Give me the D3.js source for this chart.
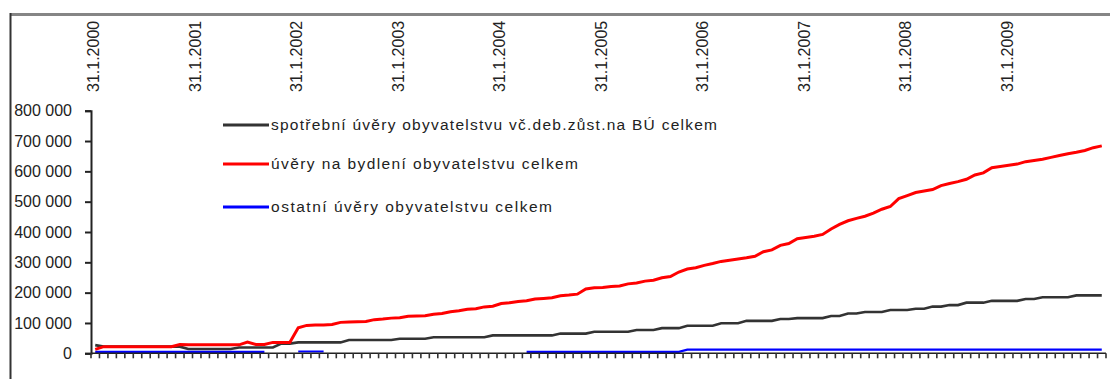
<!DOCTYPE html>
<html>
<head>
<meta charset="utf-8">
<script src="https://cdn.jsdelivr.net/npm/d3@7"></script>
<style>
  html, body { margin: 0; padding: 0; background: #fff; }
  svg { display: block; font-family: "Liberation Sans", Arial, sans-serif; }
</style>
</head>
<body>
<svg id="chart" width="1110" height="379"></svg>
<script>
// ---- DATA ----
const tickLabels = ["31.1.2000","31.1.2001","31.1.2002","31.1.2003","31.1.2004",
                    "31.1.2005","31.1.2006","31.1.2007","31.1.2008","31.1.2009"];
const yTicks = [0,100000,200000,300000,400000,500000,600000,700000,800000];
const seriesNames = [
  "spotřební úvěry obyvatelstvu vč.deb.zůst.na BÚ celkem",
  "úvěry na bydlení obyvatelstvu celkem",
  "ostatní úvěry obyvatelstvu celkem"
];
const seriesColors = ["#333333", "#ff0000", "#0000ff"];

// month-end categories Jan 2000 .. Dec 2009
const fmtDate = d3.timeFormat("%-d.%-m.%Y");
const categories = d3.timeMonth.range(new Date(2000,1,1), new Date(2010,1,1))
  .map(d => fmtDate(d3.timeDay.offset(d, -1)));

const consumer = [
  27000,22000,22000,22000,22000,22000,22000,22000,22000,22000,
  22000,14000,14000,14000,14000,14000,14000,19000,19000,19000,
  19000,19000,32000,32000,36000,36000,36000,36000,36000,36000,
  44000,44000,44000,44000,44000,44000,48000,48000,48000,48000,
  53000,53000,53000,53000,53000,53000,53000,59000,59000,59000,
  59000,59000,59000,59000,59000,65000,65000,65000,65000,71000,
  71000,71000,71000,71000,77000,77000,77000,83000,83000,83000,
  91000,91000,91000,91000,99000,99000,99000,107000,107000,107000,
  107000,113000,113000,116000,116000,116000,116000,123000,123000,131000,
  131000,136000,136000,136000,143000,143000,143000,147000,147000,154000,
  154000,159000,159000,167000,167000,167000,173000,173000,173000,173000,
  179000,179000,185000,185000,185000,185000,191000,191000,191000,191000
];
const housing = [
  13000,22000,22000,22000,22000,22000,22000,22000,22000,22000,
  29000,28000,28000,28000,28000,28000,28000,28000,37000,29000,
  29000,36000,36000,36000,84000,92000,93000,93000,95000,102000,
  103000,104000,105000,111000,113000,116000,117000,122000,123000,124000,
  129000,131000,137000,140000,145000,147000,153000,155000,164000,167000,
  171000,173000,179000,181000,183000,190000,192000,195000,212000,216000,
  217000,220000,222000,229000,232000,238000,241000,249000,253000,268000,
  278000,282000,290000,296000,303000,307000,311000,315000,320000,335000,
  341000,356000,362000,378000,382000,386000,392000,410000,425000,437000,
  445000,452000,462000,475000,484000,510000,520000,530000,535000,540000,
  553000,560000,566000,574000,588000,595000,612000,616000,620000,624000,
  632000,636000,640000,646000,652000,658000,663000,669000,678000,684000
];
const other = [
  5000,5000,5000,5000,5000,5000,5000,5000,5000,5000,
  5000,5000,5000,5000,5000,5000,5000,5000,5000,5000,
  5000,null,null,null,6000,6000,6000,6000,null,null,
  null,null,null,null,null,null,null,null,null,null,
  null,null,null,null,null,null,null,null,null,null,
  null,5000,5000,5000,5000,5000,5000,5000,5000,5000,
  5000,5000,5000,5000,5000,5000,5000,5000,5000,5000,
  12000,12000,12000,12000,12000,12000,12000,12000,12000,12000,
  12000,12000,12000,12000,12000,12000,12000,12000,12000,12000,
  12000,12000,12000,12000,12000,12000,12000,12000,12000,12000,
  12000,12000,12000,12000,12000,12000,12000,12000,12000,12000,
  12000,12000,12000,12000,12000,12000,12000,12000,12000,12000
];

// ---- CHART ----
(function () {
const svg = d3.select("#chart");
const pLeft = 91, pRight = 1106, pTop = 110.7, pBottom = 353.3;

const x = d3.scaleBand().domain(categories).range([pLeft, pRight]).padding(0);
const y = d3.scaleLinear().domain([0, 800000]).range([pBottom, pTop]);
const cx = c => x(c) + x.bandwidth() / 2;

// frame
svg.append("line").attr("x1", 10).attr("x2", 1110).attr("y1", 14.5).attr("y2", 14.5)
  .attr("stroke", "#858585").attr("stroke-width", 3);
svg.append("line").attr("x1", 10.5).attr("x2", 10.5).attr("y1", 13).attr("y2", 379)
  .attr("stroke", "#333").attr("stroke-width", 2);

// y axis
const yAxis = d3.axisLeft(y).tickValues(yTicks).tickSize(6).tickPadding(13)
  .tickFormat(d => d3.format(",")(d).replace(/,/g, " "));
const gy = svg.append("g").attr("transform", `translate(${pLeft},0)`).call(yAxis);
gy.select(".domain").attr("stroke", "#222").attr("stroke-width", 2);
gy.selectAll(".tick line").attr("stroke", "#222").attr("stroke-width", 2);
gy.selectAll(".tick text").attr("font-size", 16).attr("fill", "#222")
  .attr("font-family", "Liberation Sans, Arial, sans-serif");

// top labels
svg.append("g").selectAll("text").data(tickLabels).join("text")
  .attr("transform", d => `translate(${cx(d) + 4},92) rotate(-90)`)
  .attr("text-anchor", "start")
  .attr("font-size", 16)
  .attr("fill", "#222")
  .text(d => d);

// lines
const seriesData = [consumer, other, housing];
const seriesColorOrder = [seriesColors[0], seriesColors[2], seriesColors[1]];
const seriesWidth = [2.6, 2.2, 3];
const line = d3.line()
  .defined(d => d.v !== null)
  .x(d => cx(d.c))
  .y(d => y(d.v));
seriesData.forEach((arr, k) => {
  svg.append("path")
    .datum(categories.map((c, i) => ({c, v: arr[i]})))
    .attr("fill", "none")
    .attr("stroke", seriesColorOrder[k])
    .attr("stroke-width", seriesWidth[k])
    .attr("d", line);
});

// x axis (bottom) with monthly ticks
svg.append("line").attr("x1", pLeft).attr("x2", pRight).attr("y1", pBottom).attr("y2", pBottom)
  .attr("stroke", "#222").attr("stroke-width", 1.5);
const tickXs = categories.map(c => x(c)).concat([pRight]);
svg.append("g").selectAll("line").data(tickXs).join("line")
  .attr("x1", d => d).attr("x2", d => d)
  .attr("y1", pBottom).attr("y2", pBottom + 5)
  .attr("stroke", "#333").attr("stroke-width", 1.6);

// legend
const legY = [125, 164, 207];
const legLen = [446, 307, 281];
const lg = svg.append("g");
seriesNames.forEach((name, k) => {
  lg.append("line").attr("x1", 223).attr("x2", 269)
    .attr("y1", legY[k]).attr("y2", legY[k])
    .attr("stroke", seriesColors[k]).attr("stroke-width", 3);
  lg.append("text").attr("x", 271).attr("y", legY[k] + 5)
    .attr("font-size", 15.5).attr("fill", "#222")
    .attr("textLength", legLen[k]).attr("lengthAdjust", "spacing")
    .text(name);
});
})();
</script>
</body>
</html>
